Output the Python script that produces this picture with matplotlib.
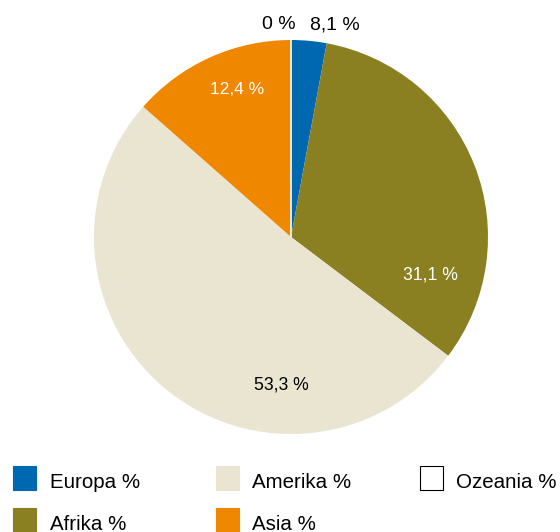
import matplotlib
matplotlib.use('Agg')
from matplotlib import pyplot as plt
from matplotlib.patches import Rectangle

plt.rcParams['font.family'] = ['Liberation Sans', 'DejaVu Sans']

# slice order clockwise from 12 o'clock
regions = ['Europa %', 'Afrika %', 'Amerika %', 'Asia %', 'Ozeania %']
shares = [2.9, 32.4, 51.2, 13.5, 0.0]      # slice sizes as drawn
value_labels = ['8,1 %', '31,1 %', '53,3 %', '12,4 %', '0 %']
colors = ['#0067b1', '#8a8021', '#e9e5d0', '#f08700', '#ffffff']

# label placement in pixels (x, baseline y), text colour, size
label_pos = [(335, 29), (430, 280), (281, 389), (237, 94), (279, 29)]
label_col = ['black', 'white', 'black', 'white', 'black']
label_size = [14, 12.7, 12.7, 12.5, 14]

W, H = 560, 532
cx, cy, r = 291, 237, 197

fig = plt.figure(figsize=(W / 100, H / 100), dpi=100)
ax = fig.add_axes([(cx - r) / W, (H - cy - r) / H, 2 * r / W, 2 * r / H])

wedges, _ = ax.pie(shares, colors=colors, startangle=90, counterclock=False,
                   radius=1, wedgeprops=dict(linewidth=0))
wedges[-1].set_edgecolor('white')
wedges[-1].set_linewidth(1.2)
ax.set_xlim(-1, 1)
ax.set_ylim(-1, 1)
ax.set_aspect('equal')
ax.axis('off')

for txt, (px, py), c, s in zip(value_labels, label_pos, label_col, label_size):
    ax.text((px - cx) / r, (cy - py) / r, txt, color=c, fontsize=s,
            ha='center', va='baseline', clip_on=False)

# legend, filled column by column
col_x = [13, 215.5, 419.5]
row_y = [466, 508]
for i, (name, c) in enumerate(zip(regions, colors)):
    x0 = col_x[i // 2]
    y0 = row_y[i % 2]
    ec = 'black' if c == '#ffffff' else c
    fig.add_artist(Rectangle((x0 / W, 1 - (y0 + 23.5) / H), 23 / W, 23.5 / H,
                             facecolor=c, edgecolor=ec, linewidth=0.8,
                             transform=fig.transFigure))
    fig.text((x0 + 37) / W, 1 - (y0 + 21.5) / H, name, fontsize=14.8,
             ha='left', va='baseline')

fig.savefig('out.png', dpi=100)
